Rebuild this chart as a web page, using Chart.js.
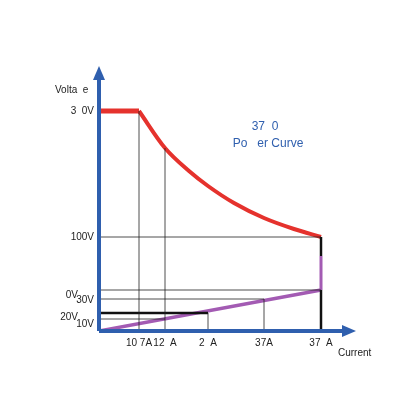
<!DOCTYPE html><html><head><script src="https://cdn.jsdelivr.net/npm/chart.js@4"></script>
<style>body{margin:0;background:#fff}#w{width:420px;height:420px}</style></head><body><div id="w"><canvas id="c"></canvas></div>
<script>
const currentPos=[40,66,109,165,222];
const currentLabels=['10 7A','12  A','2  A','37A','37  A'];
const voltPos=[220,94,36,31,14,7];
const voltLabels=['3  0V','100V','0V','30V','20V','10V'];
const voltLabelDx=[0,0,-16,0,-16,0];
const flatX=[0,40];const flatY=[220,220];
const redX=[40,66,90,109,135,165,195,222];
const redY=[220,183,160,145,128,113,102,94];
const purpleX=[0,222];const purpleY=[0,41];
const BLUE='#2f5fae',RED='#e5322d',PUR='#a35bb3';
function pts(xs,ys){return xs.map((x,i)=>({x,y:ys[i]}));}
function seg(a,b,c,d){return [{x:a,y:b},{x:c,y:d}];}
const thin=[seg(40,0,40,220),seg(66,0,66,183),seg(109,0,109,18),seg(165,0,165,32),seg(0,94,222,94),seg(0,41,222,41),seg(0,32,165,32),seg(0,12,66,12)];
const ds=[];
thin.forEach(d=>ds.push({data:d,borderColor:'#222',borderWidth:0.8}));
ds.push({data:seg(0,18,109,18),borderColor:'#111',borderWidth:2.5});
ds.push({data:seg(222,0,222,41),borderColor:'#111',borderWidth:2.5});
ds.push({data:seg(222,75,222,94),borderColor:'#111',borderWidth:2.5});
ds.push({data:seg(222,41,222,75),borderColor:PUR,borderWidth:3});
ds.push({data:pts(purpleX,purpleY),borderColor:PUR,borderWidth:3.5});
ds.push({data:pts(flatX,flatY),borderColor:RED,borderWidth:5});
ds.push({data:pts(redX,redY),borderColor:RED,borderWidth:4,cubicInterpolationMode:'monotone'});
ds.forEach(d=>{d.showLine=true;d.pointRadius=0;d.fill=false;});
const deco={id:'deco',afterDraw(ch){const c=ch.ctx,x=ch.scales.x,y=ch.scales.y;
const ox=x.getPixelForValue(0),oy=y.getPixelForValue(0);
c.save();c.strokeStyle=BLUE;c.fillStyle=BLUE;c.lineWidth=4;
c.beginPath();c.moveTo(ox,oy);c.lineTo(ox,ch.chartArea.top+8);c.moveTo(ox,oy);c.lineTo(ch.chartArea.right-8,oy);c.stroke();
c.beginPath();c.moveTo(ox-6,ch.chartArea.top+10);c.lineTo(ox,ch.chartArea.top-4);c.lineTo(ox+6,ch.chartArea.top+10);c.fill();
c.beginPath();c.moveTo(ch.chartArea.right-10,oy-6);c.lineTo(ch.chartArea.right+4,oy);c.lineTo(ch.chartArea.right-10,oy+6);c.fill();
c.fillStyle='#222';c.font='10px "Liberation Sans"';c.textBaseline='middle';
c.textAlign='right';voltPos.forEach((v,i)=>c.fillText(voltLabels[i],ox-5+voltLabelDx[i],y.getPixelForValue(v)));
c.textAlign='center';currentPos.forEach((v,i)=>c.fillText(currentLabels[i],x.getPixelForValue(v),oy+12));
c.textAlign='left';c.fillText('Volta  e',55,90);c.fillText('Current',338,353);
c.fillStyle=BLUE;c.font='12px "Liberation Sans"';c.textAlign='center';
c.fillText('37  0',265,127);c.fillText('Po   er Curve',268,144);c.restore();}};
new Chart(document.getElementById('c'),{type:'scatter',data:{datasets:ds},plugins:[deco],
options:{animation:false,responsive:true,maintainAspectRatio:false,layout:{padding:{left:99,top:70,right:68,bottom:89}},
plugins:{legend:{display:false},tooltip:{enabled:false}},
scales:{x:{type:'linear',min:0,max:253,display:false},y:{type:'linear',min:0,max:261,display:false}}}});
</script></body></html>
